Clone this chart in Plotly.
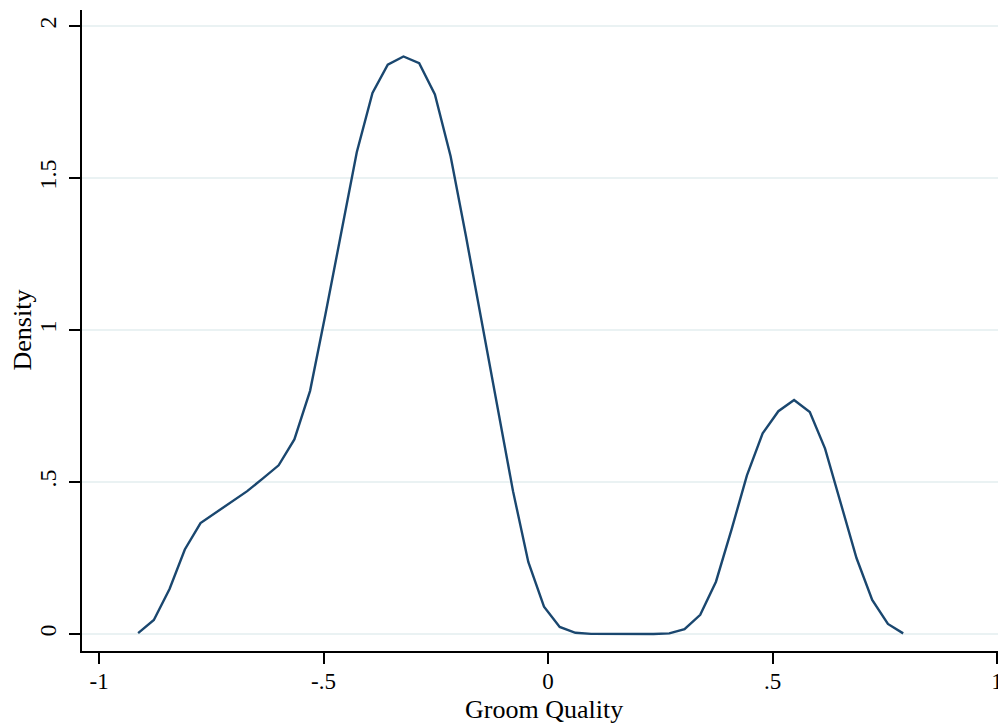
import plotly.graph_objects as go

groom_quality = [-0.913, -0.878, -0.843, -0.809, -0.774, -0.739, -0.704, -0.670, -0.635, -0.600,
                 -0.565, -0.530, -0.496, -0.461, -0.426, -0.391, -0.357, -0.322, -0.287, -0.252,
                 -0.217, -0.183, -0.148, -0.113, -0.078, -0.044, -0.009, 0.026, 0.061, 0.096,
                 0.130, 0.165, 0.200, 0.235, 0.270, 0.304, 0.339, 0.374, 0.409, 0.443,
                 0.478, 0.513, 0.548, 0.583, 0.617, 0.652, 0.687, 0.722, 0.757, 0.791]
density = [0.003, 0.046, 0.148, 0.278, 0.365, 0.400, 0.434, 0.470, 0.512, 0.555,
           0.640, 0.800, 1.050, 1.320, 1.585, 1.780, 1.873, 1.900, 1.878, 1.775,
           1.572, 1.310, 1.030, 0.750, 0.470, 0.237, 0.090, 0.023, 0.004, 0.0005,
           0.0, 0.0, 0.0, 0.0, 0.002, 0.016, 0.063, 0.172, 0.345, 0.522,
           0.660, 0.733, 0.770, 0.730, 0.610, 0.430, 0.250, 0.112, 0.033, 0.002]

x_tick_vals = [-1, -0.5, 0, 0.5, 1]
x_tick_text = ["-1", "-.5", "0", ".5", "1"]
y_tick_vals = [0, 0.5, 1, 1.5, 2]
y_tick_text = ["0", ".5", "1", "1.5", "2"]

FONT = "Liberation Serif"

fig = go.Figure()
fig.add_trace(go.Scatter(x=groom_quality, y=density, mode="lines",
                         line=dict(color="#1a476f", width=2.4), showlegend=False))

# page body has an 8px margin, so the figure is sized to fill the rest of the window
fig.update_layout(
    width=998, height=716,
    margin=dict(l=74, r=0, t=2, b=73),
    paper_bgcolor="white", plot_bgcolor="white",
    font=dict(family=FONT, size=21, color="black"),
)
fig.update_xaxes(
    range=[-1.038, 1.020], tickvals=x_tick_vals, ticktext=x_tick_text,
    automargin=False,
    showgrid=False, zeroline=False, showline=True, linecolor="black", linewidth=2,
    ticks="outside", ticklen=11, tickwidth=2, tickcolor="black",
    tickfont=dict(family=FONT, size=23), ticklabelstandoff=-3,
)
fig.update_yaxes(
    range=[-0.056, 2.053], tickvals=y_tick_vals, ticktext=y_tick_text,
    automargin=False,
    showgrid=True, gridcolor="#eaf2f3", gridwidth=2, zeroline=False,
    showline=True, linecolor="black", linewidth=2,
    ticks="outside", ticklen=11, tickwidth=2, tickcolor="black",
    tickangle=-90, tickfont=dict(family=FONT, size=24), ticklabelstandoff=3,
)
fig.add_annotation(
    text="Density", textangle=-90, x=0, xref="paper", y=0.5, yref="paper",
    xanchor="center", yanchor="middle", xshift=-60, showarrow=False,
    font=dict(family=FONT, size=26, color="black"),
)
fig.add_annotation(
    text="Groom Quality", x=0.5, xref="paper", y=0, yref="paper",
    xanchor="center", yanchor="middle", yshift=-58, showarrow=False,
    font=dict(family=FONT, size=26, color="black"),
)

fig.write_html("out.html")
